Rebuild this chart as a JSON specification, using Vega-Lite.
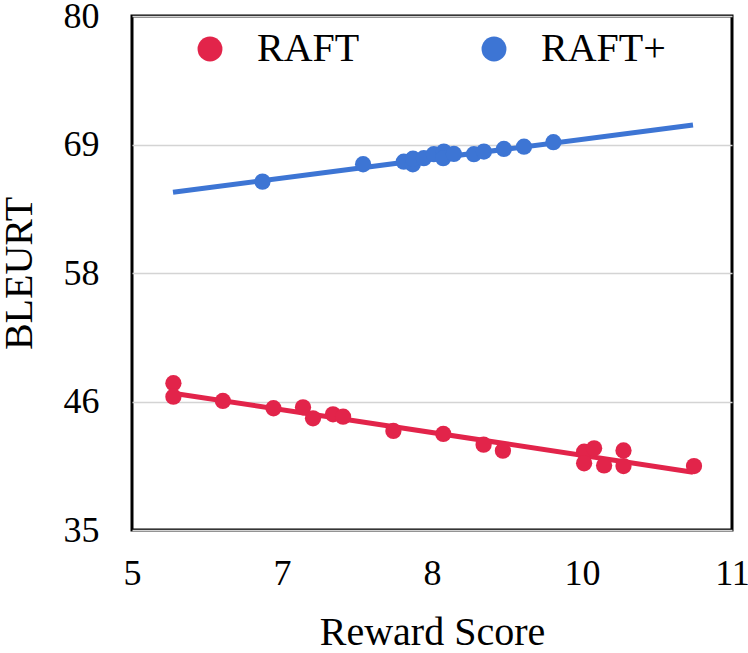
{
  "$schema": "https://vega.github.io/schema/vega-lite/v6.json",
  "width": 600,
  "height": 514,
  "autosize": {"type": "none"},
  "padding": {"left": 132, "top": 16, "right": 16, "bottom": 123},
  "background": "white",
  "config": {
    "view": {"stroke": "black", "strokeWidth": 3},
    "font": "Liberation Serif",
    "axis": {
      "labelFont": "Liberation Serif",
      "titleFont": "Liberation Serif",
      "labelFontSize": 36,
      "titleFontSize": 40,
      "titleFontWeight": "normal",
      "labelColor": "black",
      "titleColor": "black",
      "domain": false,
      "ticks": false
    },
    "legend": {
      "labelFont": "Liberation Serif",
      "labelFontSize": 40,
      "labelColor": "black"
    }
  },
  "datasets": {
    "points": [
      {"series": "RAFT", "reward": 5.414, "bleurt": 47.85},
      {"series": "RAFT", "reward": 5.414, "bleurt": 46.67},
      {"series": "RAFT", "reward": 5.909, "bleurt": 46.30},
      {"series": "RAFT", "reward": 6.415, "bleurt": 45.66},
      {"series": "RAFT", "reward": 6.710, "bleurt": 45.74},
      {"series": "RAFT", "reward": 6.810, "bleurt": 44.78},
      {"series": "RAFT", "reward": 7.010, "bleurt": 45.13},
      {"series": "RAFT", "reward": 7.111, "bleurt": 44.92},
      {"series": "RAFT", "reward": 7.614, "bleurt": 43.67},
      {"series": "RAFT", "reward": 8.113, "bleurt": 43.41},
      {"series": "RAFT", "reward": 8.516, "bleurt": 42.47},
      {"series": "RAFT", "reward": 8.709, "bleurt": 41.94},
      {"series": "RAFT", "reward": 9.521, "bleurt": 41.86},
      {"series": "RAFT", "reward": 9.521, "bleurt": 40.84},
      {"series": "RAFT", "reward": 9.621, "bleurt": 42.15},
      {"series": "RAFT", "reward": 9.721, "bleurt": 40.65},
      {"series": "RAFT", "reward": 9.915, "bleurt": 41.96},
      {"series": "RAFT", "reward": 9.915, "bleurt": 40.60},
      {"series": "RAFT", "reward": 10.62, "bleurt": 40.60},
      {"series": "RAFT+", "reward": 6.305, "bleurt": 65.50},
      {"series": "RAFT+", "reward": 7.311, "bleurt": 67.02},
      {"series": "RAFT+", "reward": 7.718, "bleurt": 67.25},
      {"series": "RAFT+", "reward": 7.808, "bleurt": 67.02},
      {"series": "RAFT+", "reward": 7.810, "bleurt": 67.51},
      {"series": "RAFT+", "reward": 7.918, "bleurt": 67.55},
      {"series": "RAFT+", "reward": 8.018, "bleurt": 67.90},
      {"series": "RAFT+", "reward": 8.118, "bleurt": 68.13},
      {"series": "RAFT+", "reward": 8.112, "bleurt": 67.55},
      {"series": "RAFT+", "reward": 8.219, "bleurt": 67.92},
      {"series": "RAFT+", "reward": 8.419, "bleurt": 67.90},
      {"series": "RAFT+", "reward": 8.519, "bleurt": 68.13},
      {"series": "RAFT+", "reward": 8.719, "bleurt": 68.36},
      {"series": "RAFT+", "reward": 8.920, "bleurt": 68.56},
      {"series": "RAFT+", "reward": 9.214, "bleurt": 68.95}
    ],
    "trend": [
      {"series": "RAFT", "reward": 5.41, "bleurt": 46.98},
      {"series": "RAFT", "reward": 10.61, "bleurt": 40.06},
      {"series": "RAFT+", "reward": 5.41, "bleurt": 64.57},
      {"series": "RAFT+", "reward": 10.61, "bleurt": 70.46}
    ]
  },
  "resolve": {"legend": {"color": "independent"}},
  "layer": [
    {
      "data": {"name": "trend"},
      "mark": {"type": "line", "strokeWidth": 5},
      "encoding": {
        "x": {"field": "reward", "type": "quantitative"},
        "y": {"field": "bleurt", "type": "quantitative"},
        "detail": {"field": "series"},
        "color": {"field": "series", "type": "nominal", "legend": null}
      }
    },
    {
      "data": {"name": "points"},
      "mark": {"type": "circle", "size": 265, "opacity": 1},
      "encoding": {
        "x": {
          "field": "reward",
          "type": "quantitative",
          "scale": {"domain": [5, 11], "nice": false, "zero": false},
          "axis": {
            "title": "Reward Score",
            "values": [5, 6.5, 8, 9.5, 11],
            "format": ".0f",
            "grid": false,
            "labelPadding": 26,
            "titlePadding": 21,
            "labelOverlap": false,
            "labelFlush": false
          }
        },
        "y": {
          "field": "bleurt",
          "type": "quantitative",
          "scale": {"domain": [35, 80], "nice": false, "zero": false},
          "axis": {
            "title": "BLEURT",
            "values": [35, 46.25, 57.5, 68.75, 80],
            "format": ".0f",
            "grid": true,
            "gridColor": "#d4d4d4",
            "gridWidth": 1.5,
            "labelPadding": 33,
            "titlePadding": 24,
            "labelOverlap": false,
            "labelFlush": false
          }
        },
        "color": {
          "field": "series",
          "type": "nominal",
          "scale": {"domain": ["RAFT", "RAFT+"], "range": ["#E2244A", "#3D75D4"]},
          "legend": {
            "title": null,
            "orient": "none",
            "direction": "horizontal",
            "legendX": 58,
            "legendY": 13,
            "symbolType": "circle",
            "symbolSize": 620,
            "symbolOpacity": 1,
            "symbolStrokeWidth": 0,
            "labelOffset": 27,
            "columnPadding": 114,
            "padding": 0
          }
        }
      }
    }
  ]
}
